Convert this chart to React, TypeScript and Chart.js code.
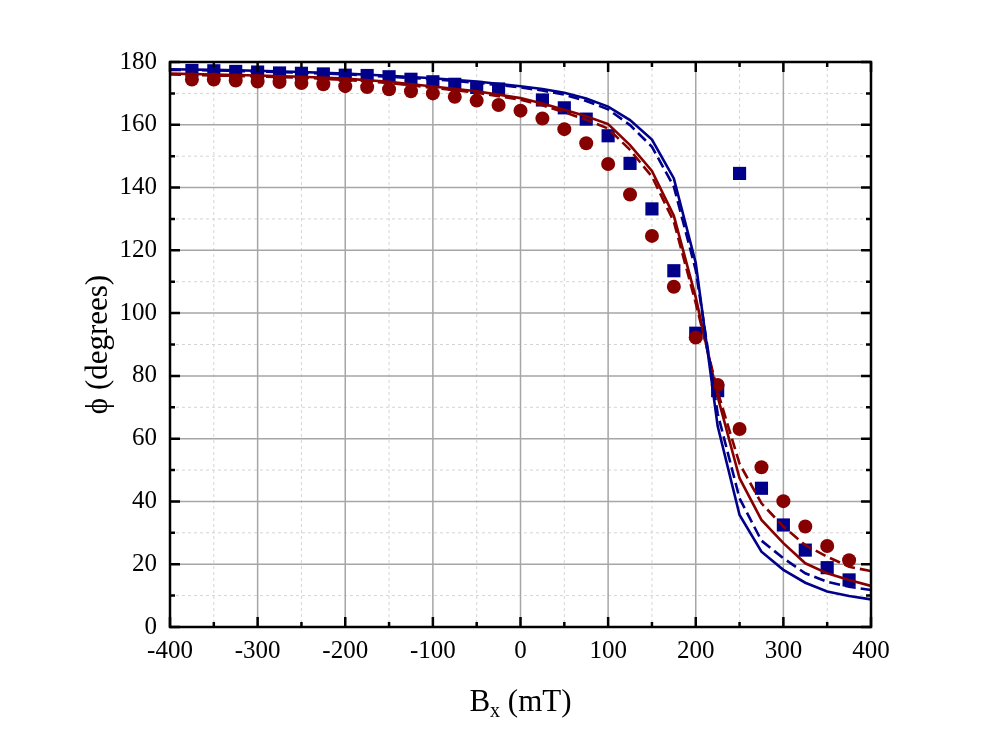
import React, { useEffect, useRef } from 'react';
import { Chart, registerables } from 'chart.js';

Chart.register(...registerables);

// field values (mT) for the measured points
const fieldPoints = [
  -375, -350, -325, -300, -275, -250, -225, -200, -175, -150, -125, -100, -75, -50, -25, 0,
  25, 50, 75, 100, 125, 150, 175, 200, 225, 250, 275, 300, 325, 350, 375,
];

const blueSquares = [
  177.3, 177.2, 177.0, 176.8, 176.5, 176.4, 176.2, 175.8, 175.7, 175.3, 174.5, 173.7, 172.9, 171.9, 171.4, null,
  167.9, 165.4, 161.8, 156.5, 147.7, 133.2, 113.5, 93.6, 75.3, 144.5, 44.2, 32.5, 24.5, 18.9, 15.0,
];

const redCircles = [
  174.4, 174.4, 174.1, 173.8, 173.6, 173.3, 172.9, 172.3, 172.0, 171.3, 170.7, 170.0, 168.9, 167.7, 166.3, 164.5,
  162.0, 158.6, 154.1, 147.5, 137.8, 124.6, 108.4, 92.2, 77.1, 63.1, 50.9, 40.1, 32.0, 25.8, 21.3,
];

// field values (mT) for the simulated curves
const fieldLine = [
  -400, -350, -300, -250, -200, -150, -100, -50, 0, 25, 50, 75, 100, 125, 150, 175, 200, 225, 250, 275, 300, 325,
  350, 375, 400,
];

const blueSolid = [
  177.7, 177.5, 177.2, 176.8, 176.3, 175.6, 174.8, 173.8, 172.3, 171.4, 170.2, 168.4, 165.8, 161.5, 155.3, 142.9,
  116.0, 64.0, 35.7, 24.0, 18.2, 14.1, 11.3, 9.9, 8.8,
];

const blueDashed = [
  177.5, 177.3, 177.0, 176.6, 176.1, 175.3, 174.5, 173.4, 171.9, 170.9, 169.6, 167.6, 164.9, 159.9, 153.0, 140.3,
  113.7, 68.0, 41.0, 27.5, 21.9, 17.1, 14.4, 12.8, 11.8,
];

const redSolid = [
  176.3, 176.0, 175.7, 175.3, 174.7, 173.7, 172.2, 170.7, 168.5, 166.8, 164.8, 162.7, 160.2, 153.5, 145.3, 131.0,
  105.0, 73.4, 47.4, 34.1, 26.7, 20.3, 17.1, 15.0, 13.1,
];

const redDashed = [
  176.0, 175.7, 175.4, 175.0, 174.3, 173.3, 171.8, 170.2, 168.0, 166.2, 164.0, 161.6, 158.8, 152.0, 143.5, 129.1,
  103.2, 75.0, 52.0, 39.4, 32.0, 26.1, 22.4, 19.2, 17.8,
];

const xTicks = [-400, -300, -200, -100, 0, 100, 200, 300, 400];
const yTicks = [0, 20, 40, 60, 80, 100, 120, 140, 160, 180];

const BLUE = '#00008b';
const RED = '#870000';
const FONT = '"Liberation Serif", "Times New Roman", serif';

const pairs = (xs: number[], ys: (number | null)[]) => xs.map((x, i) => ({ x, y: ys[i] }));

const framePlugin = {
  id: 'frame',
  beforeDatasetsDraw(chart: any) {
    const { ctx, chartArea: a, scales } = chart;
    const xs = scales.x;
    const ys = scales.y;
    ctx.save();
    // minor dashed grid
    ctx.strokeStyle = '#d4d4d4';
    ctx.lineWidth = 1;
    ctx.setLineDash([3, 3]);
    for (let v = -350; v < 400; v += 100) {
      const px = xs.getPixelForValue(v);
      ctx.beginPath();
      ctx.moveTo(px, a.top);
      ctx.lineTo(px, a.bottom);
      ctx.stroke();
    }
    for (let v = 10; v < 180; v += 20) {
      const py = ys.getPixelForValue(v);
      ctx.beginPath();
      ctx.moveTo(a.left, py);
      ctx.lineTo(a.right, py);
      ctx.stroke();
    }
    // major solid grid
    ctx.setLineDash([]);
    ctx.strokeStyle = '#a6a6a6';
    ctx.lineWidth = 1.5;
    xTicks.slice(1, -1).forEach((v) => {
      const px = xs.getPixelForValue(v);
      ctx.beginPath();
      ctx.moveTo(px, a.top);
      ctx.lineTo(px, a.bottom);
      ctx.stroke();
    });
    yTicks.slice(1, -1).forEach((v) => {
      const py = ys.getPixelForValue(v);
      ctx.beginPath();
      ctx.moveTo(a.left, py);
      ctx.lineTo(a.right, py);
      ctx.stroke();
    });
    ctx.restore();
  },
  afterDatasetsDraw(chart: any) {
    const { ctx, chartArea: a, scales } = chart;
    const xs = scales.x;
    const ys = scales.y;
    ctx.save();
    ctx.strokeStyle = '#000';
    ctx.lineWidth = 2.5;
    // inward ticks on all four sides
    for (let v = -400; v <= 400; v += 50) {
      const px = xs.getPixelForValue(v);
      const len = v % 100 === 0 ? 10 : 5;
      ctx.beginPath();
      ctx.moveTo(px, a.bottom);
      ctx.lineTo(px, a.bottom - len);
      ctx.moveTo(px, a.top);
      ctx.lineTo(px, a.top + len);
      ctx.stroke();
    }
    for (let v = 0; v <= 180; v += 10) {
      const py = ys.getPixelForValue(v);
      const len = v % 20 === 0 ? 10 : 5;
      ctx.beginPath();
      ctx.moveTo(a.left, py);
      ctx.lineTo(a.left + len, py);
      ctx.moveTo(a.right, py);
      ctx.lineTo(a.right - len, py);
      ctx.stroke();
    }
    ctx.strokeRect(a.left, a.top, a.right - a.left, a.bottom - a.top);
    ctx.restore();
  },
  afterDraw(chart: any) {
    const { ctx, chartArea: a } = chart;
    ctx.save();
    ctx.fillStyle = '#000';
    ctx.textBaseline = 'alphabetic';
    // x axis title: B with subscript x
    const cx = (a.left + a.right) / 2;
    const big = `31px ${FONT}`;
    const small = `20px ${FONT}`;
    ctx.font = big;
    const wb = ctx.measureText('B').width;
    const wr = ctx.measureText(' (mT)').width;
    ctx.font = small;
    const wx = ctx.measureText('x').width;
    let sx = cx - (wb + wx + wr) / 2;
    const base = 711;
    ctx.textAlign = 'left';
    ctx.font = big;
    ctx.fillText('B', sx, base);
    sx += wb;
    ctx.font = small;
    ctx.fillText('x', sx, base + 6);
    sx += wx;
    ctx.font = big;
    ctx.fillText(' (mT)', sx, base);
    // y axis title
    ctx.translate(107, (a.top + a.bottom) / 2);
    ctx.rotate(-Math.PI / 2);
    ctx.textAlign = 'center';
    ctx.fillText('ϕ (degrees)', 0, 0);
    ctx.restore();
  },
};

const App: React.FC = () => {
  const chartRef = useRef<HTMLCanvasElement | null>(null);

  useEffect(() => {
    document.body.style.margin = '0';
    if (!chartRef.current) return;
    const ctx = chartRef.current.getContext('2d');

    const lineSet = (data: number[], color: string, dashed: boolean) => ({
      type: 'line' as const,
      data: pairs(fieldLine, data),
      borderColor: color,
      backgroundColor: color,
      borderWidth: 2.6,
      borderDash: dashed ? [11, 5] : [],
      pointRadius: 0,
      fill: false,
      tension: 0,
      order: 0,
    });

    const chartInstance = new Chart(ctx as any, {
      type: 'scatter',
      data: {
        datasets: [
          {
            data: pairs(fieldPoints, blueSquares),
            pointStyle: 'rect',
            pointRadius: 9.3,
            backgroundColor: BLUE,
            borderWidth: 0,
            order: 2,
          },
          {
            data: pairs(fieldPoints, redCircles),
            pointStyle: 'circle',
            pointRadius: 7,
            backgroundColor: RED,
            borderWidth: 0,
            order: 1,
          },
          lineSet(blueSolid, BLUE, false),
          lineSet(blueDashed, BLUE, true),
          lineSet(redSolid, RED, false),
          lineSet(redDashed, RED, true),
        ] as any,
      },
      options: {
        animation: false,
        responsive: false,
        layout: { padding: { top: 62, right: 129, left: 0, bottom: 0 } },
        plugins: { legend: { display: false }, tooltip: { enabled: false } },
        scales: {
          x: {
            type: 'linear',
            min: -400,
            max: 400,
            grid: { display: false, drawTicks: false },
            border: { display: false },
            afterBuildTicks: (scale: any) => {
              scale.ticks = xTicks.map((value) => ({ value }));
            },
            afterFit: (scale: any) => {
              scale.height = 117;
            },
            ticks: {
              color: '#000',
              padding: 9,
              font: { family: FONT, size: 25 },
            },
          },
          y: {
            type: 'linear',
            min: 0,
            max: 180,
            grid: { display: false, drawTicks: false },
            border: { display: false },
            afterBuildTicks: (scale: any) => {
              scale.ticks = yTicks.map((value) => ({ value }));
            },
            afterFit: (scale: any) => {
              scale.width = 170;
            },
            ticks: {
              color: '#000',
              padding: 13,
              font: { family: FONT, size: 25 },
            },
          },
        },
      },
      plugins: [framePlugin],
    });

    return () => {
      chartInstance.destroy();
    };
  }, []);

  return (
    <div style={{ width: 1000, height: 744, background: '#fff' }}>
      <canvas ref={chartRef} width={1000} height={744} style={{ display: 'block' }} />
    </div>
  );
};

export default App;
